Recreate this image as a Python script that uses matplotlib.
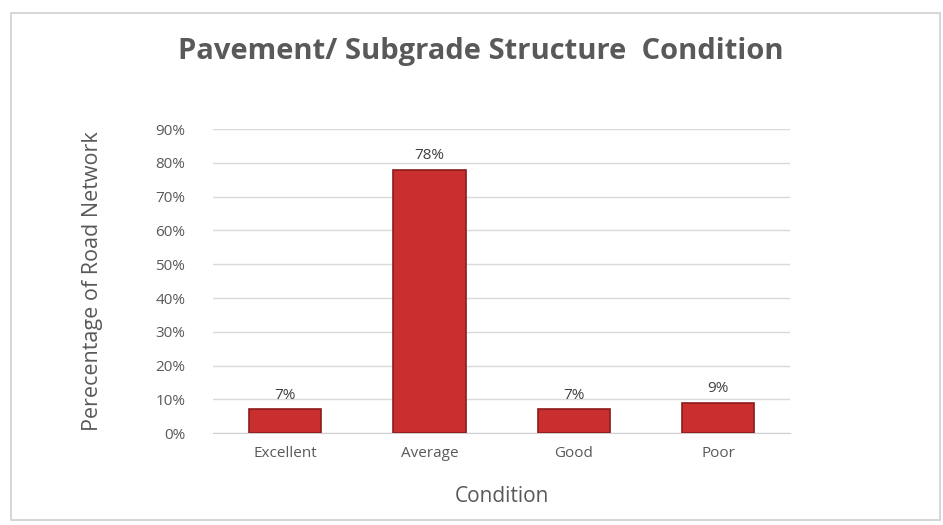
import matplotlib.pyplot as plt
from matplotlib.patches import Rectangle

categories = ["Excellent", "Average", "Good", "Poor"]
values = [7, 78, 7, 9]
yticks = [0, 10, 20, 30, 40, 50, 60, 70, 80, 90]

plt.rcParams['font.family'] = ['Open Sans', 'DejaVu Sans']

fig = plt.figure(figsize=(9.43, 5.25), dpi=100)
ax = fig.add_axes([0.226, 0.175, 0.612, 0.579])

# light frame around the chart area
fig.patches.append(Rectangle((0.012, 0.01), 0.985, 0.965, transform=fig.transFigure,
                             fill=False, edgecolor='#D0D0D0', linewidth=1.2))

x = range(len(categories))
bars = ax.bar(x, values, width=0.5, color='#C92F2F', edgecolor='#8E1B1B', linewidth=1.2, zorder=3)
for xi, v in zip(x, values):
    ax.text(xi, v + 2, f"{v}%", ha='center', va='bottom', fontsize=11, color='#404040')

ax.set_xlim(-0.5, len(categories) - 0.5)
ax.set_ylim(0, 90)
ax.set_yticks(yticks)
ax.set_yticklabels([f"{t}%" for t in yticks])
ax.set_xticks(list(x))
ax.set_xticklabels(categories)
ax.tick_params(axis='both', length=0, labelsize=11, labelcolor='#595959')
ax.tick_params(axis='y', pad=20)
ax.tick_params(axis='x', pad=9)
ax.grid(axis='y', color='#D9D9D9', linewidth=1, zorder=0)
for s in ['top', 'right', 'left']:
    ax.spines[s].set_visible(False)
ax.spines['bottom'].set_color('#D0D0D0')

ax.set_xlabel("Condition", fontsize=15, color='#595959', labelpad=18)
ax.set_ylabel("Perecentage of Road Network", fontsize=15.5, color='#595959', labelpad=38)
fig.text(0.51, 0.902, "Pavement/ Subgrade Structure  Condition", ha='center', va='center',
         fontsize=21, fontweight='bold', color='#595959')

fig.savefig("out.png", dpi=100)
